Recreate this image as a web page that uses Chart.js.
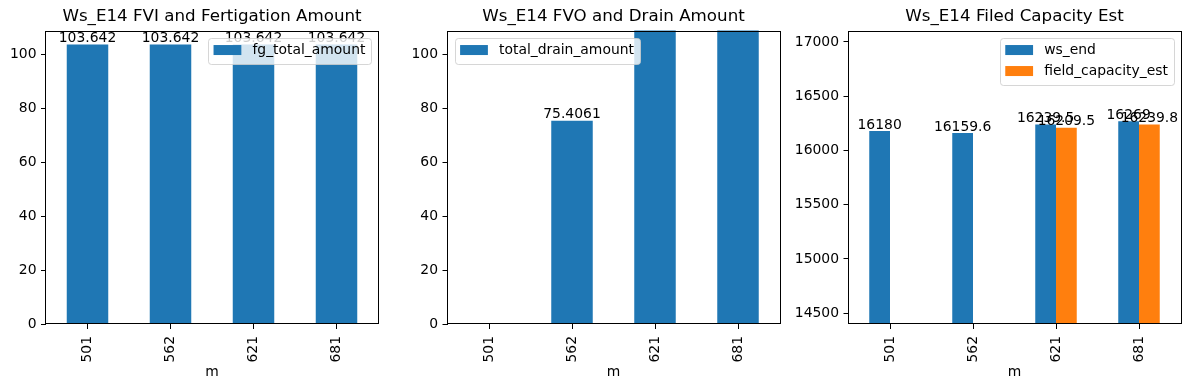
<!DOCTYPE html>
<html>
<head>
<meta charset="utf-8">
<script src="https://cdn.jsdelivr.net/npm/chart.js@4.4.0/dist/chart.umd.min.js"></script>
<style>
  body { margin: 0; background: #fff; width: 1189px; height: 390px; position: relative; overflow: hidden; }
  canvas { position: absolute; top: 0; }
</style>
</head>
<body>
<canvas id="c1" width="424" height="390" style="left:0px"></canvas>
<canvas id="c2" width="427" height="390" style="left:400px"></canvas>
<canvas id="c3" width="449" height="390" style="left:790px"></canvas>
<script>
const months = ["501", "562", "621", "681"];
const fgTotalAmount = [103.642, 103.642, 103.642, 103.642];
const totalDrainAmount = [null, 75.4061, 135, 135]; // 621/681 go past the top of the axis
const wsEnd = [16180, 16159.6, 16239.5, 16269];
const fieldCapacityEst = [null, null, 16209.5, 16239.8];
const amountTicks = [0, 20, 40, 60, 80, 100];
const capacityTicks = [14500, 15000, 15500, 16000, 16500, 17000];

const FONT = '"DejaVu Sans", sans-serif';
const BLUE = "#1f77b4";
const ORANGE = "#ff7f0e";

//******* frame round the plot area, like matplotlib spines */
const spines = {
  id: "spines",
  afterDatasetsDraw(chart) {
    const { ctx, chartArea: a } = chart;
    ctx.save();
    ctx.strokeStyle = "#000";
    ctx.lineWidth = 1;
    ctx.strokeRect(Math.round(a.left) - 0.5, Math.round(a.top) + 0.5,
      Math.round(a.right) - Math.round(a.left) + 1, Math.round(a.bottom) - Math.round(a.top) - 1);
    ctx.restore();
  },
};

// value text on top of each bar, skipped when the bar leaves the axis
const barLabels = {
  id: "barLabels",
  afterDatasetsDraw(chart) {
    const { ctx, chartArea } = chart;
    ctx.save();
    ctx.font = "13.9px " + FONT;
    ctx.fillStyle = "#000";
    ctx.textAlign = "center";
    ctx.textBaseline = "bottom";
    chart.data.datasets.forEach((ds, di) => {
      chart.getDatasetMeta(di).data.forEach((bar, i) => {
        const v = ds.data[i];
        if (v == null || bar.y < chartArea.top - 0.5) return;
        ctx.fillText(String(v), bar.x, bar.y + 1);
      });
    });
    ctx.restore();
  },
};

const legendBox = {
  id: "legendBox",
  afterDraw(chart, args, opts) {
    const { ctx, chartArea } = chart;
    const items = chart.data.datasets;
    ctx.save();
    ctx.font = "13.9px " + FONT;
    const textW = Math.max(...items.map((d) => ctx.measureText(d.label).width));
    const w = 5.6 + 27.8 + 11.1 + textW + 5.6;
    const h = 21 * items.length + 5;
    const x = opts.side === "left" ? chartArea.left + 7 : chartArea.right - 7 - w;
    const y = chartArea.top + 7;
    ctx.beginPath();
    ctx.roundRect(Math.round(x) + 0.5, Math.round(y) + 0.5, Math.round(w), h, 3);
    ctx.fillStyle = "rgba(255,255,255,0.8)";
    ctx.fill();
    ctx.strokeStyle = "rgba(204,204,204,0.8)";
    ctx.lineWidth = 1;
    ctx.stroke();
    items.forEach((d, i) => {
      const cy = y + 12.5 + 21 * i;
      ctx.fillStyle = d.backgroundColor;
      ctx.fillRect(x + 5.6, cy - 5, 27.8, 10);
      ctx.fillStyle = "#000";
      ctx.textAlign = "left";
      ctx.textBaseline = "middle";
      ctx.fillText(d.label, x + 5.6 + 27.8 + 11.1, cy);
    });
    ctx.restore();
  },
};

const makeChart = (id, title, datasets, yMin, yMax, yTicks, yWidth, legendSide) => {
  const tickGrid = {
    display: true,
    drawOnChartArea: false,
    drawTicks: true,
    tickLength: 5,
    color: "#000",
    lineWidth: 1,
    offset: false,
  };
  return new Chart(document.getElementById(id), {
    type: "bar",
    data: { labels: months, datasets: datasets },
    options: {
      responsive: false,
      animation: false,
      devicePixelRatio: 1,
      layout: { padding: 0 },
      datasets: { bar: { categoryPercentage: 0.5, barPercentage: 1.0 } },
      plugins: {
        legend: { display: false },
        tooltip: { enabled: false },
        title: {
          display: true,
          text: title,
          color: "#000",
          font: { family: FONT, size: 16.7, weight: "normal" },
          padding: { top: 6.5, bottom: 4 },
        },
        legendBox: { side: legendSide },
      },
      scales: {
        x: {
          offset: true,
          grid: tickGrid,
          border: { display: false },
          ticks: {
            minRotation: 90,
            maxRotation: 90,
            autoSkip: false,
            padding: 7,
            color: "#000",
            font: { family: FONT, size: 13.9 },
          },
          title: {
            display: true,
            text: "m",
            color: "#000",
            font: { family: FONT, size: 13.9 },
            padding: { top: 0, bottom: 9.5 },
          },
          afterFit: (s) => { s.height = 66; },
        },
        y: {
          min: yMin,
          max: yMax,
          grid: tickGrid,
          border: { display: false },
          ticks: {
            padding: 4.5,
            color: "#000",
            font: { family: FONT, size: 13.9 },
            callback: (v) => String(v),
          },
          afterBuildTicks: (s) => { s.ticks = yTicks.map((v) => ({ value: v })); },
          afterFit: (s) => { s.width = yWidth; },
        },
        // empty right axis, only keeps the plot centred under its title
        yPad: {
          position: "right",
          display: true,
          grid: { display: false },
          border: { display: false },
          ticks: { display: false },
          afterFit: (s) => { s.width = yWidth; },
        },
      },
    },
    plugins: [spines, barLabels, legendBox],
  });
};

makeChart("c1", "Ws_E14 FVI and Fertigation Amount",
  [{ label: "fg_total_amount", data: fgTotalAmount, backgroundColor: BLUE }],
  0, 108.82, amountTicks, 46, "right");

makeChart("c2", "Ws_E14 FVO and Drain Amount",
  [{ label: "total_drain_amount", data: totalDrainAmount, backgroundColor: BLUE }],
  0, 108.82, amountTicks, 47.5, "left");

makeChart("c3", "Ws_E14 Filed Capacity Est",
  [
    { label: "ws_end", data: wsEnd, backgroundColor: BLUE },
    { label: "field_capacity_est", data: fieldCapacityEst, backgroundColor: ORANGE },
  ],
  14400, 17105, capacityTicks, 58.5, "right");
</script>
</body>
</html>
